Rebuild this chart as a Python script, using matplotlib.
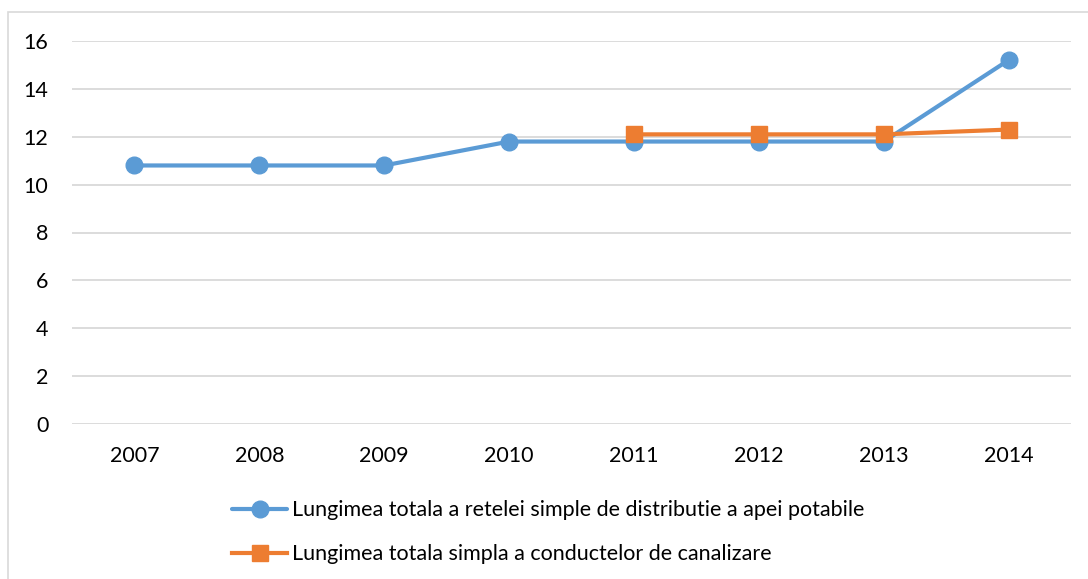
import matplotlib.pyplot as plt
from matplotlib.patches import Rectangle

years = ['2007', '2008', '2009', '2010', '2011', '2012', '2013', '2014']
retea_apa = [10.8, 10.8, 10.8, 11.8, 11.8, 11.8, 11.8, 15.2]
canal_years = ['2011', '2012', '2013', '2014']
canalizare = [12.1, 12.1, 12.1, 12.3]
yticks = [0, 2, 4, 6, 8, 10, 12, 14, 16]

lbl_apa = 'Lungimea totala a retelei simple de distributie a apei potabile'
lbl_canal = 'Lungimea totala simpla a conductelor de canalizare'

plt.rcParams['font.family'] = ['Lato', 'DejaVu Sans']

fig = plt.figure(figsize=(10.88, 5.79), dpi=100)
ax = fig.add_axes([72/1088, 1 - 424/579, 999/1088, 383/579])

# chart frame (left/top edges visible)
fig.patches.append(Rectangle((8/1088, -0.1), 1.2, 1 - 12/579 + 0.1, transform=fig.transFigure,
                             fill=False, edgecolor='#d9d9d9', linewidth=1.2))

xpos = {y: i for i, y in enumerate(years)}
ax.plot([xpos[y] for y in years], retea_apa, color='#5b9bd5', lw=3, marker='o',
        markersize=12, label=lbl_apa, zorder=3, solid_capstyle='round')
ax.plot([xpos[y] for y in canal_years], canalizare, color='#ed7d31', lw=3, marker='s',
        markersize=11, label=lbl_canal, zorder=4)

ax.set_xlim(-0.5, len(years) - 0.5)
ax.set_ylim(0, 16)
ax.set_yticks(yticks)
ax.set_xticks(range(len(years)))
ax.set_xticklabels(years)
ax.grid(axis='y', color='#d9d9d9', lw=1.3)
ax.set_axisbelow(True)
for s in ax.spines.values():
    s.set_visible(False)
ax.tick_params(length=0, labelsize=15.5, colors='black')
ax.tick_params(axis='y', pad=17)
ax.tick_params(axis='x', pad=16)

fig.legend(loc='upper left', bbox_to_anchor=(213/1088, 1 - 481/579), frameon=False,
           fontsize=15.5, handlelength=2.55, labelspacing=1.1, handletextpad=0.2)

fig.savefig('out.png', dpi=100)
